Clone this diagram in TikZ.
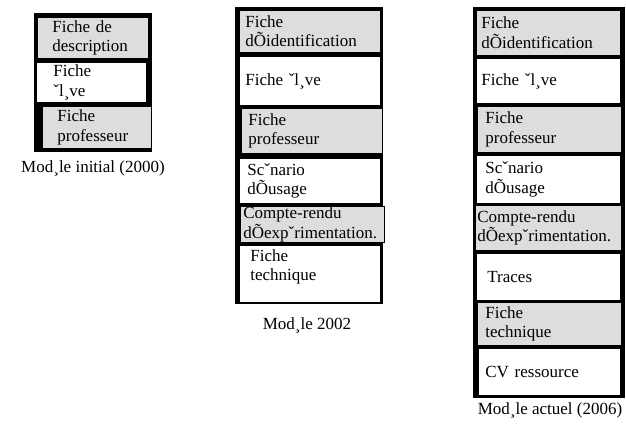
\documentclass[tikz,border=0pt]{standalone}
\usepackage{fontspec}
\setmainfont{Liberation Serif}
\usepackage{tikz}
\definecolor{cellgrey}{RGB}{221,221,221}
\newcommand{\cellfont}{\fontsize{17}{19.5}\selectfont}
\tikzset{
  cell/.style={draw=black, line width=0.8pt, anchor=north west, align=left, inner ysep=0pt, font=\cellfont},
  greycell/.style={cell, fill=cellgrey},
  whitecell/.style={cell, fill=white},
  caption/.style={font=\cellfont, inner sep=0pt},
  frame/.style={fill=black}
}
\begin{document}
\begin{tikzpicture}[x=1pt, y=-1pt]
\useasboundingbox (0,0) rectangle (626,423);

\fill[frame] (34,13) rectangle (152,152);
\node[greycell, text width=81pt, inner xsep=15pt, minimum height=41pt] (descA) at (37,17) {Fiche de\\description};
\node[whitecell, text width=76pt, inner xsep=17pt, minimum height=40pt] (eleveA) at (36,62) {Fiche\\ˇl¸ve};
\node[greycell, text width=79pt, inner xsep=15pt, minimum height=42pt] (profA) at (42,106) {Fiche\\professeur};
\node[caption] (capA) at (93,168) {Mod¸le initial (2000)};

\fill[frame] (235,7) rectangle (383,304);
\node[greycell, text width=129pt, inner xsep=6pt, minimum height=42pt] (identB) at (239,10) {Fiche\\dÕidentification};
\node[whitecell, text width=129pt, inner xsep=6pt, minimum height=49pt] (eleveB) at (239,56) {Fiche ˇl¸ve};
\node[greycell, text width=127pt, inner xsep=7pt, minimum height=45pt] (profB) at (241,108) {Fiche\\professeur};
\node[whitecell, text width=125pt, inner xsep=8pt, minimum height=45pt] (scenB) at (239,158) {Scˇnario\\dÕusage};
\node[greycell, text width=138pt, inner xsep=3pt, minimum height=36pt] (crB) at (240,206) {Compte-rendu\\dÕexpˇrimentation.};
\node[whitecell, text width=119pt, inner xsep=11pt, minimum height=57pt, text depth=37pt] (techB) at (239,245) {Fiche\\technique};
\node[caption] (capB) at (307,325) {Mod¸le 2002};

\fill[frame] (473,7) rectangle (625,398);
\node[greycell, text width=134pt, inner xsep=5pt, minimum height=45pt] (identC) at (476,10) {Fiche\\dÕidentification};
\node[whitecell, text width=134pt, inner xsep=5pt, minimum height=45pt] (eleveC) at (476,58) {Fiche ˇl¸ve};
\node[greycell, text width=128pt, inner xsep=8pt, minimum height=46pt] (profC) at (477,106) {Fiche\\professeur};
\node[whitecell, text width=126pt, inner xsep=9pt, minimum height=48pt] (scenC) at (476,155) {Scˇnario\\dÕusage};
\node[greycell, text width=142pt, inner xsep=2pt, minimum height=45pt] (crC) at (475,205) {Compte-rendu\\dÕexpˇrimentation.};
\node[whitecell, text width=122pt, inner xsep=11pt, minimum height=47pt] (tracesC) at (476,253) {Traces};
\node[greycell, text width=128pt, inner xsep=8pt, minimum height=43pt] (techC) at (477,302) {Fiche\\technique};
\node[whitecell, text width=128pt, inner xsep=7pt, minimum height=47pt] (cvC) at (478,348) {CV ressource};
\node[caption] (capC) at (550,410) {Mod¸le actuel (2006)};
\end{tikzpicture}
\end{document}
